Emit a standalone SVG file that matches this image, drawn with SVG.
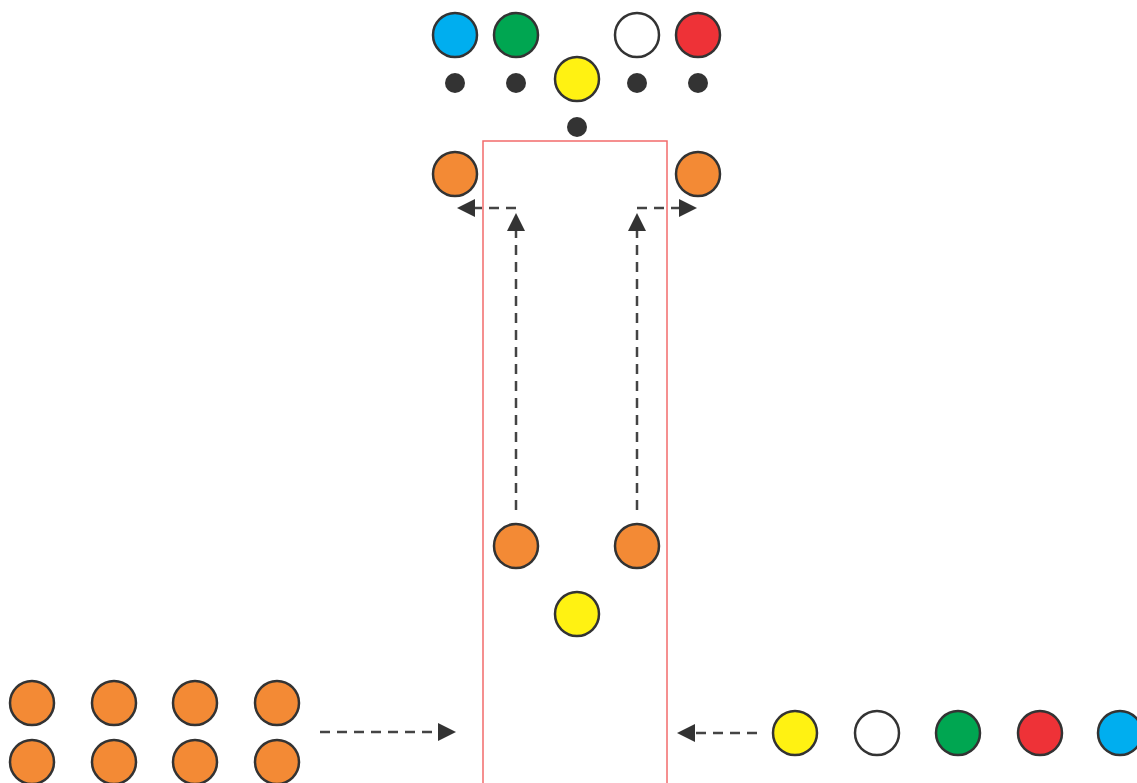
<svg xmlns="http://www.w3.org/2000/svg" width="1137" height="783" viewBox="0 0 1137 783">
<style>
.c{stroke:#333;stroke-width:2.5}
.o{fill:#F38A35}.y{fill:#FFF212}.b{fill:#00AEEF}.g{fill:#00A651}.r{fill:#EE3237}.w{fill:#fff}
.d{fill:#333}
.a{fill:none;stroke:#444;stroke-width:2.5;stroke-dasharray:10 7}
.h{fill:#333}
</style>
<rect id="zone" x="483" y="141" width="184" height="660" fill="none" stroke="#F26B6B" stroke-width="1.5"/>
<g id="connectors">
<path class="a" d="M516,208H472"/>
<path class="h" d="M475,199L457,208L475,217z"/>
<path class="a" d="M637,208H681"/>
<path class="h" d="M679,199L697,208L679,217z"/>
<path class="a" d="M516,510V229"/>
<path class="h" d="M507,231L516,213L525,231z"/>
<path class="a" d="M637,510V229"/>
<path class="h" d="M628,231L637,213L646,231z"/>
<path class="a" d="M320,732H440"/>
<path class="h" d="M438,723L456,732L438,741z"/>
<path class="a" d="M757,733H693"/>
<path class="h" d="M695,724L677,733L695,742z"/>
</g>
<g id="top-blue"><circle class="c b" cx="455" cy="35" r="22"/></g>
<g id="top-green"><circle class="c g" cx="516" cy="35" r="22"/></g>
<g id="top-white"><circle class="c w" cx="637" cy="35" r="22"/></g>
<g id="top-red"><circle class="c r" cx="698" cy="35" r="22"/></g>
<g id="top-yellow"><circle class="c y" cx="577" cy="79" r="22"/></g>
<g id="dots">
<circle class="d" cx="455" cy="83" r="10"/>
<circle class="d" cx="516" cy="83" r="10"/>
<circle class="d" cx="637" cy="83" r="10"/>
<circle class="d" cx="698" cy="83" r="10"/>
<circle class="d" cx="577" cy="127" r="10"/>
</g>
<g id="orange-tl"><circle class="c o" cx="455" cy="174" r="22"/></g>
<g id="orange-tr"><circle class="c o" cx="698" cy="174" r="22"/></g>
<g id="orange-ml"><circle class="c o" cx="516" cy="546" r="22"/></g>
<g id="orange-mr"><circle class="c o" cx="637" cy="546" r="22"/></g>
<g id="yellow-m"><circle class="c y" cx="577" cy="614" r="22"/></g>
<g id="orange-group">
<circle class="c o" cx="32" cy="703" r="22"/>
<circle class="c o" cx="114" cy="703" r="22"/>
<circle class="c o" cx="195" cy="703" r="22"/>
<circle class="c o" cx="277" cy="703" r="22"/>
<circle class="c o" cx="32" cy="762" r="22"/>
<circle class="c o" cx="114" cy="762" r="22"/>
<circle class="c o" cx="195" cy="762" r="22"/>
<circle class="c o" cx="277" cy="762" r="22"/>
</g>
<g id="row-right">
<circle class="c y" cx="795" cy="733" r="22"/>
<circle class="c w" cx="877" cy="733" r="22"/>
<circle class="c g" cx="958" cy="733" r="22"/>
<circle class="c r" cx="1040" cy="733" r="22"/>
<circle class="c b" cx="1120" cy="733" r="22"/>
</g>
</svg>
